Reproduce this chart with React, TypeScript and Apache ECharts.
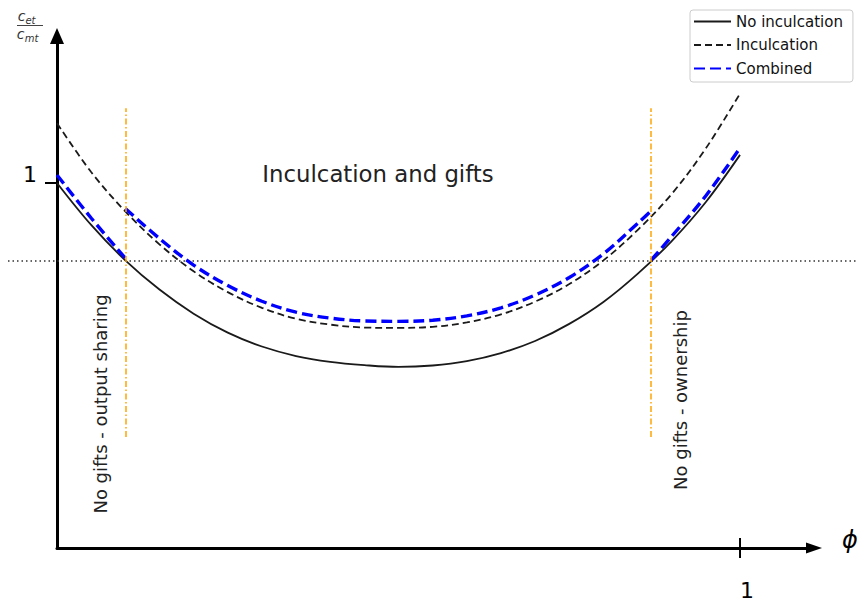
import React, { useEffect, useRef } from "react";
import * as echarts from "echarts";

// ---- data ----
const phi = [0, 0.05, 0.1, 0.15, 0.2, 0.25, 0.3, 0.35, 0.4, 0.45, 0.5, 0.55, 0.6, 0.65, 0.7, 0.75, 0.8, 0.85, 0.9, 0.95, 1.0];
const noInculcation = [1.0, 0.885, 0.788, 0.708, 0.642, 0.59, 0.552, 0.526, 0.51, 0.501, 0.496, 0.5, 0.512, 0.534, 0.567, 0.614, 0.674, 0.751, 0.841, 0.948, 1.077];
const inculcation = [1.164, 1.03, 0.922, 0.832, 0.758, 0.701, 0.658, 0.628, 0.612, 0.604, 0.603, 0.606, 0.618, 0.64, 0.675, 0.723, 0.788, 0.871, 0.97, 1.095, 1.245];

const combinedLeftPhi = [0, 0.05, 0.1];
const combinedLeft = [1.022, 0.904, 0.794];
const combinedMidPhi = [0.1, 0.15, 0.2, 0.25, 0.3, 0.35, 0.4, 0.45, 0.5, 0.55, 0.6, 0.65, 0.7, 0.75, 0.8, 0.85, 0.87];
const combinedMid = [0.93, 0.848, 0.775, 0.719, 0.676, 0.646, 0.63, 0.622, 0.621, 0.624, 0.636, 0.658, 0.693, 0.741, 0.806, 0.889, 0.924];
const combinedRightPhi = [0.87, 0.9, 0.95, 1.0];
const combinedRight = [0.789, 0.854, 0.965, 1.096];

const thresholds = [0.1, 0.87];
const thresholdSpan = [0.304, 1.205];
const referenceLevel = 0.786;
const xTicks = [1];
const yTicks = [1];
const legendNames = ["No inculcation", "Inculcation", "Combined"];

const pairs = (xs: number[], ys: number[]) => xs.map((x, i) => [x, ys[i]]);

const FONT = "DejaVu Sans";

export default function App() {
  const ref = useRef<HTMLDivElement>(null);
  useEffect(() => {
    document.body.style.margin = "0";
    if (!ref.current) return;
    const chart = echarts.init(ref.current, null, { renderer: "svg" });
    const blueStyle = { color: "#0000ff", width: 3.4, type: [11, 5] as any };
    const blueItem = { color: "#0000ff" };
    chart.setOption({
      animation: false,
      textStyle: { fontFamily: FONT },
      grid: { left: 57, right: 43, top: 36, bottom: 54 },
      legend: {
        data: legendNames,
        orient: "vertical",
        left: 690,
        top: 10,
        padding: [4, 10, 6, 3],
        itemWidth: 37,
        itemHeight: 15,
        itemGap: 8.5,
        borderColor: "#cccccc",
        borderWidth: 1,
        borderRadius: 3,
        backgroundColor: "#ffffff",
        selectedMode: false,
        itemStyle: { opacity: 0 },
        textStyle: { fontSize: 15, color: "#111", fontFamily: FONT },
      },
      xAxis: {
        type: "value",
        min: 0,
        max: 1.1083,
        axisLine: {
          show: true,
          onZero: false,
          symbol: ["none", "triangle"],
          symbolSize: [11, 16],
          lineStyle: { color: "#000", width: 3 },
        },
        axisTick: { show: false },
        axisLabel: { show: false },
        splitLine: { show: false },
      },
      yAxis: {
        type: "value",
        min: 0,
        max: 1.4027,
        axisLine: {
          show: true,
          onZero: false,
          symbol: ["none", "triangle"],
          symbolSize: [14, 16],
          lineStyle: { color: "#000", width: 3 },
        },
        axisTick: { show: true, customValues: yTicks, length: 12, lineStyle: { color: "#000", width: 2 } },
        axisLabel: { show: false },
        splitLine: { show: false },
      },
      series: [
        {
          name: "No inculcation",
          type: "line",
          data: pairs(phi, noInculcation),
          smooth: 0.35,
          symbol: "none",
          itemStyle: { color: "#1a1a1a" },
          lineStyle: { color: "#1a1a1a", width: 1.8 },
          z: 2,
          markLine: {
            silent: true,
            symbol: ["none", "none"],
            label: { show: false },
            lineStyle: { color: "#ffa500", width: 1.5, type: [6, 2.5, 1.5, 2.5] },
            data: thresholds.map((t) => [
              { coord: [t, thresholdSpan[0]] },
              { coord: [t, thresholdSpan[1]] },
            ]),
          },
        },
        {
          name: "Inculcation",
          type: "line",
          data: pairs(phi, inculcation),
          smooth: 0.35,
          symbol: "none",
          itemStyle: { color: "#1a1a1a" },
          lineStyle: { color: "#1a1a1a", width: 1.8, type: [7, 4] },
          z: 3,
        },
        {
          name: "Combined",
          type: "line",
          data: pairs(combinedLeftPhi, combinedLeft),
          smooth: 0.35,
          symbol: "none",
          itemStyle: blueItem,
          lineStyle: blueStyle,
          z: 4,
        },
        {
          name: "Combined",
          type: "line",
          data: pairs(combinedMidPhi, combinedMid),
          smooth: 0.35,
          symbol: "none",
          itemStyle: blueItem,
          lineStyle: blueStyle,
          z: 4,
        },
        {
          name: "Combined",
          type: "line",
          data: pairs(combinedRightPhi, combinedRight),
          smooth: 0.35,
          symbol: "none",
          itemStyle: blueItem,
          lineStyle: blueStyle,
          z: 4,
        },
      ],
    });

    const lvl = chart.convertToPixel({ gridIndex: 0 }, [0, referenceLevel]) as number[];
    const tk = chart.convertToPixel({ gridIndex: 0 }, [xTicks[0], 0]) as number[];
    const ytk = chart.convertToPixel({ gridIndex: 0 }, [0, yTicks[0]]) as number[];
    const txt = (o: any) => ({
      fill: "#222",
      fontFamily: FONT,
      textAlign: "center",
      textVerticalAlign: "middle",
      align: "center",
      verticalAlign: "middle",
      ...o,
    });

    chart.setOption({
      graphic: [
        {
          type: "line",
          z: 1,
          silent: true,
          shape: { x1: 8, y1: lvl[1], x2: 857, y2: lvl[1] },
          style: { stroke: "#333", lineWidth: 1.5, lineDash: [1.5, 3] },
        },
        {
          type: "line",
          z: 10,
          silent: true,
          shape: { x1: tk[0], y1: tk[1] - 10, x2: tk[0], y2: tk[1] + 10 },
          style: { stroke: "#000", lineWidth: 2 },
        },
        { type: "text", x: tk[0] + 7, y: tk[1] + 42, style: txt({ text: String(xTicks[0]), fontSize: 22, fill: "#000" }) },
        { type: "text", x: ytk[0] - 27, y: ytk[1] - 8, style: txt({ text: String(yTicks[0]), fontSize: 22, fill: "#000" }) },
        { type: "text", x: 378, y: 174, style: txt({ text: "Inculcation and gifts", fontSize: 22.8 }) },
        {
          type: "text",
          x: 100,
          y: 404,
          rotation: Math.PI / 2,
          style: txt({ text: "No gifts - output sharing", fontSize: 18 }),
        },
        {
          type: "text",
          x: 680,
          y: 400,
          rotation: Math.PI / 2,
          style: txt({ text: "No gifts - ownership", fontSize: 18 }),
        },
        { type: "text", x: 850, y: 540, style: txt({ text: "ϕ", fontSize: 24, fontStyle: "italic", fill: "#000" }) },
        { type: "text", x: 21.5, y: 16, style: txt({ text: "c", fontSize: 14, fontStyle: "italic", fill: "#333" }) },
        { type: "text", x: 30.5, y: 20, style: txt({ text: "et", fontSize: 10, fontStyle: "italic", fill: "#333" }) },
        {
          type: "line",
          silent: true,
          shape: { x1: 17, y1: 25.5, x2: 43, y2: 25.5 },
          style: { stroke: "#444", lineWidth: 1 },
        },
        { type: "text", x: 20.5, y: 34, style: txt({ text: "c", fontSize: 14, fontStyle: "italic", fill: "#333" }) },
        { type: "text", x: 31.5, y: 38, style: txt({ text: "mt", fontSize: 10, fontStyle: "italic", fill: "#333" }) },
      ],
    });

    return () => chart.dispose();
  }, []);
  return <div ref={ref} style={{ width: 857, height: 602 }} />;
}
